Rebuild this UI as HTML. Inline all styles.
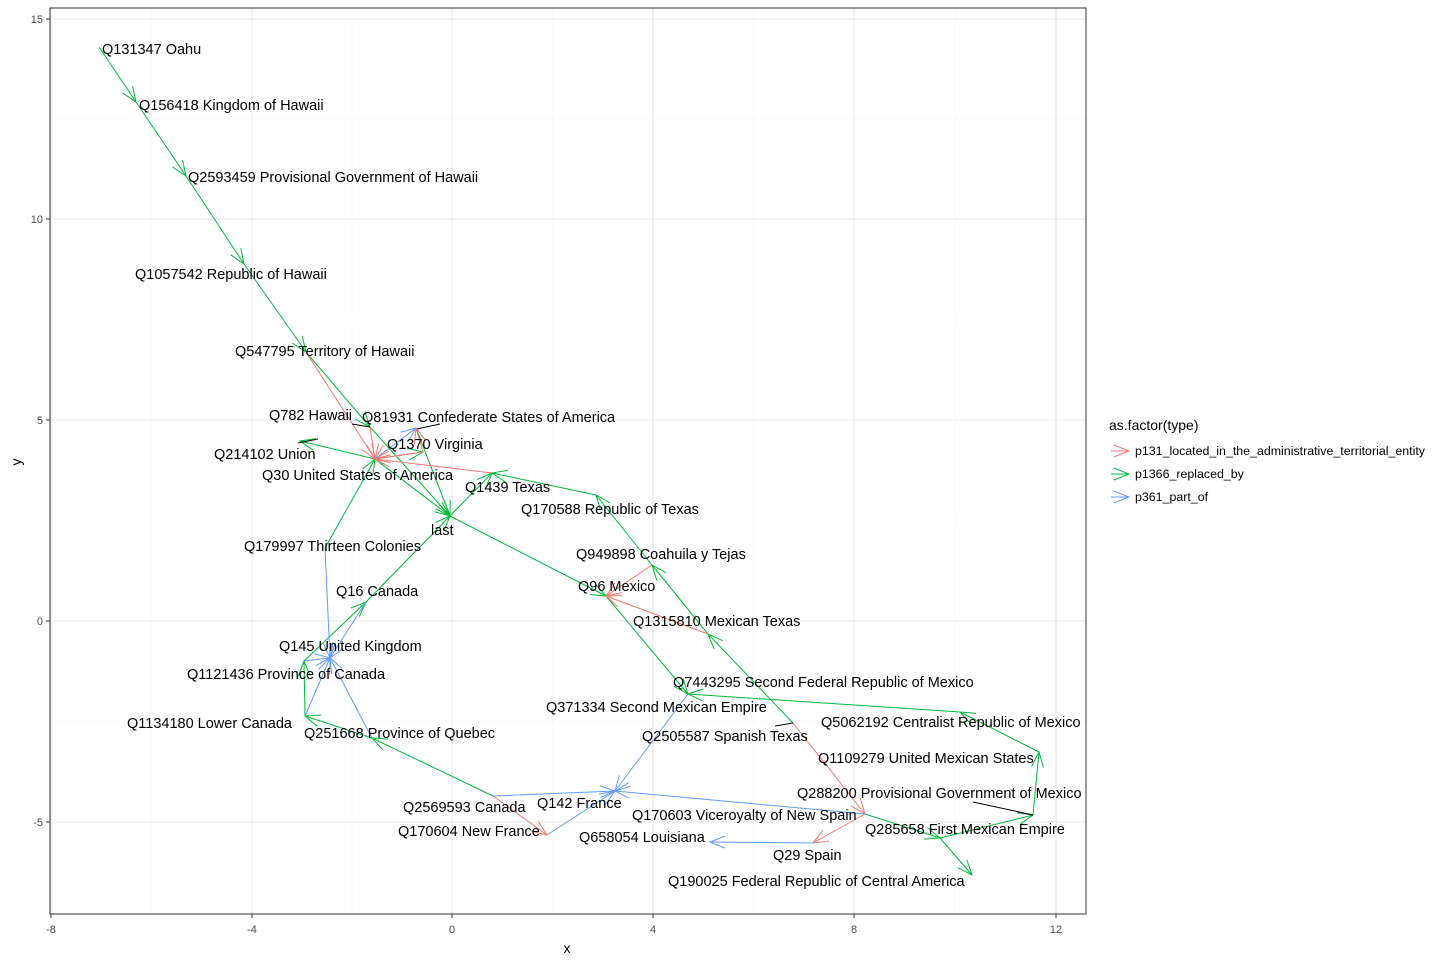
<!DOCTYPE html>
<html><head><meta charset="utf-8"><style>
body{margin:0;background:#fff;}
svg{display:block;font-family:"Liberation Sans",Arial,sans-serif;}
</style></head><body>
<svg width="1440" height="960" viewBox="0 0 1440 960">
<defs>
<marker id="ag" markerUnits="userSpaceOnUse" markerWidth="18" markerHeight="14" refX="16" refY="7" orient="auto"><path d="M1,1 L16,7 L1,13" fill="none" stroke="#00ba38" stroke-width="1"/></marker>
<marker id="ar" markerUnits="userSpaceOnUse" markerWidth="18" markerHeight="14" refX="16" refY="7" orient="auto"><path d="M1,1 L16,7 L1,13" fill="none" stroke="#f8766d" stroke-width="1"/></marker>
<marker id="ab" markerUnits="userSpaceOnUse" markerWidth="18" markerHeight="14" refX="16" refY="7" orient="auto"><path d="M1,1 L16,7 L1,13" fill="none" stroke="#619cff" stroke-width="1"/></marker>
</defs>
<rect x="50" y="8" width="1036" height="906" fill="#fff" stroke="none"/>
<g stroke="#f4f4f4" stroke-width="0.6">
<line x1="151" y1="8" x2="151" y2="914"/><line x1="352" y1="8" x2="352" y2="914"/><line x1="553" y1="8" x2="553" y2="914"/><line x1="754" y1="8" x2="754" y2="914"/><line x1="955" y1="8" x2="955" y2="914"/>
<line x1="50" y1="119" x2="1086" y2="119"/><line x1="50" y1="320" x2="1086" y2="320"/><line x1="50" y1="520" x2="1086" y2="520"/><line x1="50" y1="721" x2="1086" y2="721"/>
</g>
<g stroke="#e8e8e8" stroke-width="1.1">
<line x1="51" y1="8" x2="51" y2="914"/><line x1="252" y1="8" x2="252" y2="914"/><line x1="452" y1="8" x2="452" y2="914"/><line x1="653" y1="8" x2="653" y2="914"/><line x1="854" y1="8" x2="854" y2="914"/><line x1="1056" y1="8" x2="1056" y2="914"/>
<line x1="50" y1="19" x2="1086" y2="19"/><line x1="50" y1="219" x2="1086" y2="219"/><line x1="50" y1="420" x2="1086" y2="420"/><line x1="50" y1="621" x2="1086" y2="621"/><line x1="50" y1="822" x2="1086" y2="822"/>
</g>
<rect x="50" y="8" width="1036" height="906" fill="none" stroke="#333" stroke-width="1"/>

<g stroke="#00ba38" stroke-width="1" fill="none" marker-end="url(#ag)">
<line x1="99" y1="47" x2="136" y2="102"/>
<line x1="136" y1="102" x2="186" y2="176"/>
<line x1="186" y1="176" x2="244" y2="264"/>
<line x1="244" y1="264" x2="306" y2="352"/>
<line x1="306" y1="352" x2="370" y2="427"/>
<line x1="370" y1="427" x2="450" y2="516"/>
<line x1="375" y1="459" x2="300" y2="441"/>
<line x1="325" y1="548" x2="375" y2="459"/>
<line x1="375" y1="459" x2="450" y2="516"/>
<line x1="416" y1="428" x2="450" y2="516"/>
<line x1="375" y1="459" x2="423" y2="452"/>
<line x1="450" y1="516" x2="492" y2="473"/>
<line x1="596" y1="495" x2="492" y2="473"/>
<line x1="366" y1="602" x2="450" y2="516"/>
<line x1="450" y1="516" x2="606" y2="596"/>
<line x1="606" y1="596" x2="688" y2="694"/>
<line x1="960" y1="712" x2="688" y2="694"/>
<line x1="1039" y1="752" x2="960" y2="712"/>
<line x1="1033" y1="815" x2="1039" y2="752"/>
<line x1="940" y1="838" x2="1033" y2="815"/>
<line x1="865" y1="814" x2="940" y2="838"/>
<line x1="940" y1="838" x2="972" y2="875"/>
<line x1="793" y1="723" x2="708" y2="634"/>
<line x1="708" y1="634" x2="652" y2="565"/>
<line x1="652" y1="565" x2="596" y2="495"/>
<line x1="305" y1="716" x2="304" y2="661"/>
<line x1="304" y1="661" x2="366" y2="602"/>
<line x1="493" y1="796" x2="372" y2="738"/>
<line x1="372" y1="738" x2="305" y2="716"/>
</g>
<g stroke="#f8766d" stroke-width="1" fill="none" marker-end="url(#ar)">
<line x1="306" y1="352" x2="375" y2="459"/>
<line x1="370" y1="427" x2="375" y2="459"/>
<line x1="423" y1="452" x2="375" y2="459"/>
<line x1="416" y1="428" x2="375" y2="459"/>
<line x1="492" y1="473" x2="375" y2="459"/>
<line x1="652" y1="565" x2="606" y2="596"/>
<line x1="708" y1="634" x2="606" y2="596"/>
<line x1="793" y1="723" x2="865" y2="814"/>
<line x1="865" y1="814" x2="813" y2="843"/>
<line x1="493" y1="796" x2="547" y2="835"/>
<line x1="423" y1="452" x2="416" y2="428"/>
</g>
<g stroke="#619cff" stroke-width="1" fill="none" marker-end="url(#ab)">
<line x1="325" y1="548" x2="330" y2="658"/>
<line x1="366" y1="602" x2="330" y2="658"/>
<line x1="304" y1="661" x2="330" y2="658"/>
<line x1="305" y1="716" x2="330" y2="658"/>
<line x1="372" y1="738" x2="330" y2="658"/>
<line x1="493" y1="796" x2="615" y2="791"/>
<line x1="547" y1="835" x2="615" y2="791"/>
<line x1="688" y1="694" x2="615" y2="791"/>
<line x1="865" y1="814" x2="615" y2="791"/>
<line x1="813" y1="843" x2="710" y2="842"/>
<line x1="375" y1="459" x2="416" y2="428"/>
</g>
<g stroke="#000" stroke-width="1">
<line x1="352" y1="424" x2="370" y2="427"/>
<line x1="417" y1="429" x2="440" y2="424"/>
<line x1="298" y1="443" x2="318" y2="439"/>
<line x1="775" y1="726" x2="793" y2="723"/>
<line x1="973" y1="802" x2="1033" y2="815"/>
</g>

<g font-size="14.5" fill="#000">
<text x="102" y="54">Q131347 Oahu</text>
<text x="139" y="110">Q156418 Kingdom of Hawaii</text>
<text x="188" y="182">Q2593459 Provisional Government of Hawaii</text>
<text x="135" y="279">Q1057542 Republic of Hawaii</text>
<text x="235" y="356">Q547795 Territory of Hawaii</text>
<text x="269" y="420">Q782 Hawaii</text>
<text x="362" y="422">Q81931 Confederate States of America</text>
<text x="387" y="449">Q1370 Virginia</text>
<text x="214" y="459">Q214102 Union</text>
<text x="262" y="480">Q30 United States of America</text>
<text x="465" y="492">Q1439 Texas</text>
<text x="521" y="514">Q170588 Republic of Texas</text>
<text x="431" y="535">last</text>
<text x="244" y="551">Q179997 Thirteen Colonies</text>
<text x="576" y="559">Q949898 Coahuila y Tejas</text>
<text x="578" y="591">Q96 Mexico</text>
<text x="336" y="596">Q16 Canada</text>
<text x="633" y="626">Q1315810 Mexican Texas</text>
<text x="279" y="651">Q145 United Kingdom</text>
<text x="187" y="679">Q1121436 Province of Canada</text>
<text x="673" y="687">Q7443295 Second Federal Republic of Mexico</text>
<text x="546" y="712">Q371334 Second Mexican Empire</text>
<text x="821" y="727">Q5062192 Centralist Republic of Mexico</text>
<text x="127" y="728">Q1134180 Lower Canada</text>
<text x="304" y="738">Q251668 Province of Quebec</text>
<text x="642" y="741">Q2505587 Spanish Texas</text>
<text x="818" y="763">Q1109279 United Mexican States</text>
<text x="797" y="798">Q288200 Provisional Government of Mexico</text>
<text x="537" y="808">Q142 France</text>
<text x="403" y="812">Q2569593 Canada</text>
<text x="632" y="820">Q170603 Viceroyalty of New Spain</text>
<text x="865" y="834">Q285658 First Mexican Empire</text>
<text x="398" y="836">Q170604 New France</text>
<text x="579" y="842">Q658054 Louisiana</text>
<text x="773" y="860">Q29 Spain</text>
<text x="668" y="886">Q190025 Federal Republic of Central America</text>
</g>

<g stroke="#333" stroke-width="1">
<line x1="51" y1="914" x2="51" y2="918"/><line x1="252" y1="914" x2="252" y2="918"/><line x1="452" y1="914" x2="452" y2="918"/><line x1="653" y1="914" x2="653" y2="918"/><line x1="854" y1="914" x2="854" y2="918"/><line x1="1056" y1="914" x2="1056" y2="918"/>
<line x1="46" y1="19" x2="50" y2="19"/><line x1="46" y1="219" x2="50" y2="219"/><line x1="46" y1="420" x2="50" y2="420"/><line x1="46" y1="621" x2="50" y2="621"/><line x1="46" y1="822" x2="50" y2="822"/>
</g>
<g font-size="11" fill="#4d4d4d" text-anchor="middle">
<text x="51" y="933">-8</text><text x="252" y="933">-4</text><text x="452" y="933">0</text><text x="653" y="933">4</text><text x="854" y="933">8</text><text x="1056" y="933">12</text>
</g>
<g font-size="11" fill="#4d4d4d" text-anchor="end">
<text x="43" y="23">15</text><text x="43" y="223">10</text><text x="43" y="424">5</text><text x="43" y="625">0</text><text x="43" y="826">-5</text>
</g>
<text x="567" y="953" font-size="14" text-anchor="middle">x</text>
<text x="21" y="462" font-size="14" text-anchor="middle" transform="rotate(-90 21 462)">y</text>

<text x="1109" y="430" font-size="14">as.factor(type)</text>
<line x1="1111" y1="451" x2="1129" y2="451" stroke="#f8766d" marker-end="url(#ar)"/>
<line x1="1111" y1="474" x2="1129" y2="474" stroke="#00ba38" marker-end="url(#ag)"/>
<line x1="1111" y1="497" x2="1129" y2="497" stroke="#619cff" marker-end="url(#ab)"/>
<g font-size="12.4" fill="#000">
<text x="1135" y="455">p131_located_in_the_administrative_territorial_entity</text>
<text x="1135" y="478">p1366_replaced_by</text>
<text x="1135" y="501">p361_part_of</text>
</g>
</svg>
</body></html>
